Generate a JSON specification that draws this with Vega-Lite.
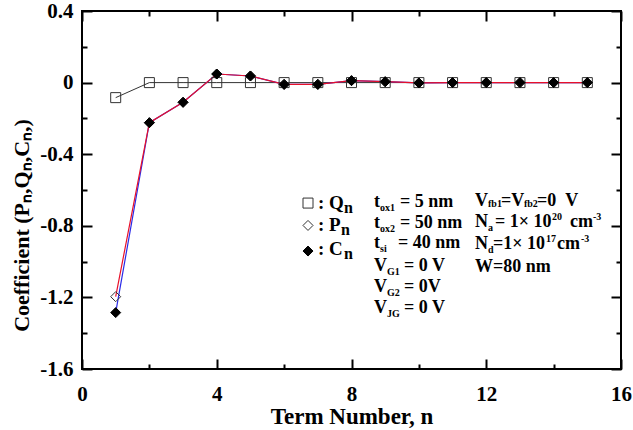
{
  "$schema": "https://vega.github.io/schema/vega-lite/v6.json",
  "width": 539,
  "height": 358,
  "autosize": {"type": "none"},
  "padding": {"left": 82, "top": 11, "right": 12, "bottom": 61},
  "background": "white",
  "config": {
    "view": {"stroke": "black", "strokeWidth": 2},
    "axis": {
      "grid": false,
      "domain": false,
      "tickColor": "black",
      "tickWidth": 2,
      "tickSize": -10,
      "labelFont": "Liberation Serif",
      "labelFontWeight": "bold",
      "labelFontSize": 21,
      "labelColor": "black",
      "labelFlush": false,
      "labelOverlap": false,
      "titleFont": "Liberation Serif",
      "titleFontWeight": "bold",
      "titleFontSize": 23,
      "titleColor": "black"
    }
  },
  "datasets": {
    "coef": [
      {"n": 1, "s": "Q", "v": -0.084}, {"n": 2, "s": "Q", "v": 0}, {"n": 3, "s": "Q", "v": 0},
      {"n": 4, "s": "Q", "v": 0}, {"n": 5, "s": "Q", "v": 0}, {"n": 6, "s": "Q", "v": 0},
      {"n": 7, "s": "Q", "v": 0}, {"n": 8, "s": "Q", "v": 0}, {"n": 9, "s": "Q", "v": 0},
      {"n": 10, "s": "Q", "v": 0}, {"n": 11, "s": "Q", "v": 0}, {"n": 12, "s": "Q", "v": 0},
      {"n": 13, "s": "Q", "v": 0}, {"n": 14, "s": "Q", "v": 0}, {"n": 15, "s": "Q", "v": 0},
      {"n": 1, "s": "P", "v": -1.196}, {"n": 2, "s": "P", "v": -0.224}, {"n": 3, "s": "P", "v": -0.11},
      {"n": 4, "s": "P", "v": 0.048}, {"n": 5, "s": "P", "v": 0.037}, {"n": 6, "s": "P", "v": -0.01},
      {"n": 7, "s": "P", "v": -0.01}, {"n": 8, "s": "P", "v": 0.011}, {"n": 9, "s": "P", "v": 0.005},
      {"n": 10, "s": "P", "v": -0.002}, {"n": 11, "s": "P", "v": 0}, {"n": 12, "s": "P", "v": 0},
      {"n": 13, "s": "P", "v": 0}, {"n": 14, "s": "P", "v": 0}, {"n": 15, "s": "P", "v": 0},
      {"n": 1, "s": "C", "v": -1.285}, {"n": 2, "s": "C", "v": -0.224}, {"n": 3, "s": "C", "v": -0.11},
      {"n": 4, "s": "C", "v": 0.048}, {"n": 5, "s": "C", "v": 0.037}, {"n": 6, "s": "C", "v": -0.01},
      {"n": 7, "s": "C", "v": -0.01}, {"n": 8, "s": "C", "v": 0.011}, {"n": 9, "s": "C", "v": 0.005},
      {"n": 10, "s": "C", "v": -0.002}, {"n": 11, "s": "C", "v": 0}, {"n": 12, "s": "C", "v": 0},
      {"n": 13, "s": "C", "v": 0}, {"n": 14, "s": "C", "v": 0}, {"n": 15, "s": "C", "v": 0}
    ],
    "keys": [
      {"s": "Q", "x": 6.709, "y": -0.673},
      {"s": "P", "x": 6.709, "y": -0.798},
      {"s": "C", "x": 6.709, "y": -0.941}
    ],
    "notes": [
      {"k": "L", "x": 7.006, "y": -0.706, "t": ": Q"}, {"k": "n", "x": 7.777, "y": -0.706, "t": "n"},
      {"k": "L", "x": 7.006, "y": -0.829, "t": ": P"}, {"k": "n", "x": 7.688, "y": -0.829, "t": "n"},
      {"k": "L", "x": 7.006, "y": -0.963, "t": ": C"}, {"k": "n", "x": 7.777, "y": -0.963, "t": "n"},

      {"k": "m", "x": 8.668, "y": -0.695, "t": "t"}, {"k": "s", "x": 8.846, "y": -0.695, "t": "ox1"}, {"k": "m", "x": 9.44, "y": -0.695, "t": "= 5 nm"},
      {"k": "m", "x": 8.668, "y": -0.812, "t": "t"}, {"k": "s", "x": 8.846, "y": -0.812, "t": "ox2"}, {"k": "m", "x": 9.44, "y": -0.812, "t": "= 50 nm"},
      {"k": "m", "x": 8.668, "y": -0.924, "t": "t"}, {"k": "s", "x": 8.846, "y": -0.924, "t": "si"}, {"k": "m", "x": 9.38, "y": -0.924, "t": "= 40 nm"},
      {"k": "m", "x": 8.668, "y": -1.0525, "t": "V"}, {"k": "s", "x": 9.054, "y": -1.0525, "t": "G1"}, {"k": "m", "x": 9.558, "y": -1.0525, "t": "= 0 V"},
      {"k": "m", "x": 8.668, "y": -1.17, "t": "V"}, {"k": "s", "x": 9.054, "y": -1.17, "t": "G2"}, {"k": "m", "x": 9.558, "y": -1.17, "t": "= 0V"},
      {"k": "m", "x": 8.668, "y": -1.287, "t": "V"}, {"k": "s", "x": 9.054, "y": -1.287, "t": "JG"}, {"k": "m", "x": 9.558, "y": -1.287, "t": "= 0 V"},

      {"k": "m", "x": 11.666, "y": -0.689, "t": "V"}, {"k": "f", "x": 12.052, "y": -0.689, "t": "fb1"},
      {"k": "m", "x": 12.438, "y": -0.689, "t": "=V"}, {"k": "f", "x": 13.12, "y": -0.689, "t": "fb2"},
      {"k": "m", "x": 13.506, "y": -0.689, "t": "=0\u00a0\u00a0V"},
      {"k": "m", "x": 11.666, "y": -0.807, "t": "N"}, {"k": "s", "x": 12.052, "y": -0.807, "t": "a"},
      {"k": "m", "x": 12.26, "y": -0.807, "t": "= 1× 10"}, {"k": "p", "x": 13.952, "y": -0.807, "t": "20"},
      {"k": "m", "x": 14.486, "y": -0.807, "t": "cm"}, {"k": "p", "x": 15.169, "y": -0.807, "t": "-3"},
      {"k": "m", "x": 11.666, "y": -0.93, "t": "N"}, {"k": "s", "x": 12.052, "y": -0.93, "t": "d"},
      {"k": "m", "x": 12.2, "y": -0.93, "t": "=1× 10"}, {"k": "p", "x": 13.773, "y": -0.93, "t": "17"},
      {"k": "m", "x": 14.1, "y": -0.93, "t": "cm"}, {"k": "p", "x": 14.813, "y": -0.93, "t": "-3"},
      {"k": "m", "x": 11.666, "y": -1.058, "t": "W=80 nm"}
    ]
  },
  "layer": [
    {
      "data": {"name": "coef"},
      "transform": [{"filter": "datum.s === 'Q'"}],
      "mark": {"type": "line", "color": "#333333", "strokeWidth": 1},
      "encoding": {
        "x": {
          "field": "n", "type": "quantitative",
          "scale": {"domain": [0, 16], "nice": false, "zero": false},
          "axis": {
            "orient": "bottom",
            "values": [0, 2, 4, 6, 8, 10, 12, 14, 16],
            "labelExpr": "datum.value % 4 === 0 ? datum.label : ''",
            "tickDash": {"condition": {"test": "datum.value % 4 !== 0", "value": [5, 40]}, "value": [40, 1]},
            "labelPadding": 24,
            "title": "Term Number, n",
            "titlePadding": 1
          }
        },
        "y": {
          "field": "v", "type": "quantitative",
          "scale": {"domain": [-1.6, 0.4], "nice": false, "zero": false},
          "axis": {
            "orient": "left",
            "values": [-1.6, -1.4, -1.2, -1, -0.8, -0.6, -0.4, -0.2, 0, 0.2, 0.4],
            "labelExpr": "abs(round(datum.value * 10)) % 4 === 0 ? (datum.value < 0 ? '-' : '') + format(abs(datum.value), datum.value === 0 ? 'd' : '.1f') : ''",
            "tickDash": {"condition": {"test": "abs(round(datum.value * 10)) % 4 !== 0", "value": [5, 40]}, "value": [40, 1]},
            "labelPadding": 19,
            "title": "Coefficient (Pₙ,Qₙ,Cₙ,)",
            "titleFontSize": 22,
            "titleX": -54,
            "titleY": 214,
            "titleBaseline": "alphabetic",
            "titleAlign": "center",
            "titleAngle": -90
          }
        }
      }
    },
    {
      "data": {"name": "coef"},
      "transform": [{"filter": "datum.s === 'C'"}],
      "mark": {"type": "line", "color": "#2a2ae8", "strokeWidth": 1.2},
      "encoding": {
        "x": {
          "field": "n", "type": "quantitative",
          "axis": {
            "orient": "top",
            "values": [0, 2, 4, 6, 8, 10, 12, 14, 16],
            "labels": false,
            "tickDash": {"condition": {"test": "datum.value % 4 !== 0", "value": [5, 40]}, "value": [40, 1]},
            "title": null
          }
        },
        "y": {
          "field": "v", "type": "quantitative",
          "axis": {
            "orient": "right",
            "values": [-1.6, -1.4, -1.2, -1, -0.8, -0.6, -0.4, -0.2, 0, 0.2, 0.4],
            "labels": false,
            "tickDash": {"condition": {"test": "abs(round(datum.value * 10)) % 4 !== 0", "value": [5, 40]}, "value": [40, 1]},
            "title": null
          }
        }
      }
    },
    {
      "data": {"name": "coef"},
      "transform": [{"filter": "datum.s === 'P'"}],
      "mark": {"type": "line", "color": "#e8102a", "strokeWidth": 1.2},
      "encoding": {
        "x": {"field": "n", "type": "quantitative", "axis": null},
        "y": {"field": "v", "type": "quantitative", "axis": null}
      }
    },
    {
      "data": {"name": "coef"},
      "mark": {"type": "point", "opacity": 1, "strokeWidth": 1, "size": 100},
      "encoding": {
        "x": {"field": "n", "type": "quantitative", "axis": null},
        "y": {"field": "v", "type": "quantitative", "axis": null},
        "shape": {"field": "s", "type": "nominal", "legend": null,
          "scale": {"domain": ["Q", "P", "C"], "range": ["square", "diamond", "diamond"]}},
        "fill": {"field": "s", "type": "nominal", "legend": null,
          "scale": {"domain": ["Q", "P", "C"], "range": ["transparent", "transparent", "black"]}},
        "stroke": {"field": "s", "type": "nominal", "legend": null,
          "scale": {"domain": ["Q", "P", "C"], "range": ["#333333", "#333333", "black"]}}
      }
    },
    {
      "data": {"name": "keys"},
      "mark": {"type": "point", "opacity": 1, "strokeWidth": 1, "size": 100},
      "encoding": {
        "x": {"field": "x", "type": "quantitative", "axis": null},
        "y": {"field": "y", "type": "quantitative", "axis": null},
        "shape": {"field": "s", "type": "nominal", "legend": null},
        "fill": {"field": "s", "type": "nominal", "legend": null},
        "stroke": {"field": "s", "type": "nominal", "legend": null}
      }
    },
    {
      "data": {"name": "notes"},
      "transform": [{"filter": "datum.k === 'L'"}],
      "mark": {"type": "text", "align": "left", "baseline": "alphabetic", "font": "Liberation Serif", "fontWeight": "bold", "fontSize": 19, "color": "black"},
      "encoding": {
        "x": {"field": "x", "type": "quantitative", "axis": null},
        "y": {"field": "y", "type": "quantitative", "axis": null},
        "text": {"field": "t"}
      }
    },
    {
      "data": {"name": "notes"},
      "transform": [{"filter": "datum.k === 'n'"}],
      "mark": {"type": "text", "align": "left", "baseline": "alphabetic", "font": "Liberation Serif", "fontWeight": "bold", "fontSize": 16, "dy": 4, "color": "black"},
      "encoding": {
        "x": {"field": "x", "type": "quantitative", "axis": null},
        "y": {"field": "y", "type": "quantitative", "axis": null},
        "text": {"field": "t"}
      }
    },
    {
      "data": {"name": "notes"},
      "transform": [{"filter": "datum.k === 'm'"}],
      "mark": {"type": "text", "align": "left", "baseline": "alphabetic", "font": "Liberation Serif", "fontWeight": "bold", "fontSize": 18, "color": "black"},
      "encoding": {
        "x": {"field": "x", "type": "quantitative", "axis": null},
        "y": {"field": "y", "type": "quantitative", "axis": null},
        "text": {"field": "t"}
      }
    },
    {
      "data": {"name": "notes"},
      "transform": [{"filter": "datum.k === 's'"}],
      "mark": {"type": "text", "align": "left", "baseline": "alphabetic", "font": "Liberation Serif", "fontWeight": "bold", "fontSize": 10, "dy": 4, "color": "black"},
      "encoding": {
        "x": {"field": "x", "type": "quantitative", "axis": null},
        "y": {"field": "y", "type": "quantitative", "axis": null},
        "text": {"field": "t"}
      }
    },
    {
      "data": {"name": "notes"},
      "transform": [{"filter": "datum.k === 'f'"}],
      "mark": {"type": "text", "align": "left", "baseline": "alphabetic", "font": "Liberation Serif", "fontWeight": "bold", "fontSize": 10, "dy": 1, "color": "black"},
      "encoding": {
        "x": {"field": "x", "type": "quantitative", "axis": null},
        "y": {"field": "y", "type": "quantitative", "axis": null},
        "text": {"field": "t"}
      }
    },
    {
      "data": {"name": "notes"},
      "transform": [{"filter": "datum.k === 'p'"}],
      "mark": {"type": "text", "align": "left", "baseline": "alphabetic", "font": "Liberation Serif", "fontWeight": "bold", "fontSize": 10, "dy": -7, "color": "black"},
      "encoding": {
        "x": {"field": "x", "type": "quantitative", "axis": null},
        "y": {"field": "y", "type": "quantitative", "axis": null},
        "text": {"field": "t"}
      }
    }
  ]
}
